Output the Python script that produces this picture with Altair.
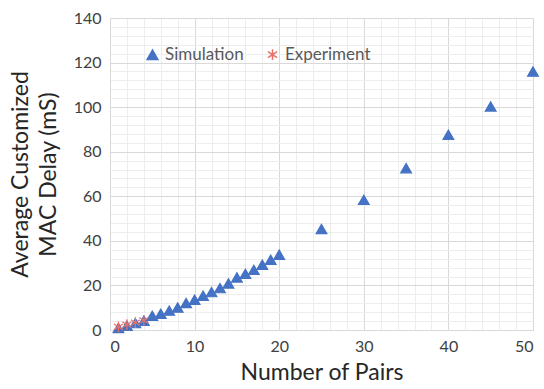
import altair as alt
import pandas as pd

sim_x = list(range(1, 21)) + [25, 30, 35, 40, 45, 50]
sim_y = [0.9, 1.9, 3.1, 4.2, 6.4, 7.3, 8.7, 10.1, 12.1, 13.6, 15.4, 17.0, 18.8, 20.9,
         23.6, 25.2, 27.0, 29.3, 31.5, 33.8, 45.3, 58.4, 72.6, 87.6, 100.3, 116.0]
exp_x = [1, 2, 3, 4]
exp_y = [1.4, 2.4, 3.3, 4.3]

series_names = ["Simulation", "Experiment"]
x_major = [0, 10, 20, 30, 40, 50]
y_major = [0, 20, 40, 60, 80, 100, 120, 140]
x_minor = list(range(0, 51, 2))
y_minor = list(range(0, 141, 4))

df = pd.DataFrame({
    "pairs": sim_x + exp_x,
    "delay": sim_y + exp_y,
    "series": ["Simulation"] * len(sim_x) + ["Experiment"] * len(exp_x),
})

FONT = "Lato"
ASTERISK = "M0,-1L0,1M-0.85,-0.55L0.85,0.55M-0.85,0.55L0.85,-0.55"

xs = alt.Scale(domain=[0, 50], nice=False, zero=True)
ys = alt.Scale(domain=[0, 140], nice=False, zero=True)

minor = alt.Chart(df).mark_point(opacity=0).encode(
    x=alt.X("pairs:Q", scale=xs, axis=alt.Axis(values=x_minor, labels=False, ticks=False, orient="top",
                                               domain=False, title=None, grid=True,
                                               gridColor="#EDEDED", gridWidth=1)),
    y=alt.Y("delay:Q", scale=ys, axis=alt.Axis(values=y_minor, labels=False, ticks=False, orient="right",
                                               domain=False, title=None, grid=True,
                                               gridColor="#EDEDED", gridWidth=1)),
)

leg = dict(title=None, orient="none", legendX=34, legendY=28,
           direction="horizontal", labelFont=FONT, labelFontSize=17,
           labelColor="#595959", columnPadding=20, labelOffset=4,
           symbolSize=115, padding=0)

pts = alt.Chart(df).mark_point(size=115, strokeWidth=1.2, opacity=1).encode(
    x=alt.X("pairs:Q", scale=xs,
            axis=alt.Axis(values=x_major, orient="bottom", grid=True, gridColor="#D9D9D9", ticks=False,
                          domainColor="#D9D9D9", labelFont=FONT, labelFontSize=16,
                          labelColor="#404040", labelPadding=8, title="Number of Pairs",
                          titleFont=FONT, titleFontSize=23, titleFontWeight="normal",
                          titleColor="#262626", titlePadding=7)),
    y=alt.Y("delay:Q", scale=ys,
            axis=alt.Axis(values=y_major, orient="left", grid=True, gridColor="#D9D9D9", ticks=False,
                          domainColor="#D9D9D9", labelFont=FONT, labelFontSize=16,
                          labelColor="#404040", labelPadding=9,
                          title=["Average Customized", "MAC Delay (mS)"],
                          titleFont=FONT, titleFontSize=23, titleFontWeight="normal",
                          titleColor="#262626", titlePadding=13, titleLineHeight=28)),
    color=alt.Color("series:N", scale=alt.Scale(domain=series_names, range=["#4472C4", "#E8706A"]),
                    legend=alt.Legend(**leg)),
    fill=alt.Fill("series:N", scale=alt.Scale(domain=series_names, range=["#4472C4", "transparent"]),
                  legend=alt.Legend(**leg)),
    shape=alt.Shape("series:N", scale=alt.Scale(domain=series_names, range=["triangle-up", ASTERISK]),
                    legend=alt.Legend(**leg)),
    order=alt.Order("series:N", sort="descending"),
)

chart = alt.layer(minor, pts).resolve_axis(x="independent", y="independent").properties(
    width=423, height=312,
    autosize=alt.AutoSizeParams(type="none"),
    padding={"left": 110, "top": 18, "right": 11, "bottom": 59},
).configure_view(stroke=None).configure(background="white")

chart.save("out.html", embed_options={"renderer": "svg", "actions": False})
